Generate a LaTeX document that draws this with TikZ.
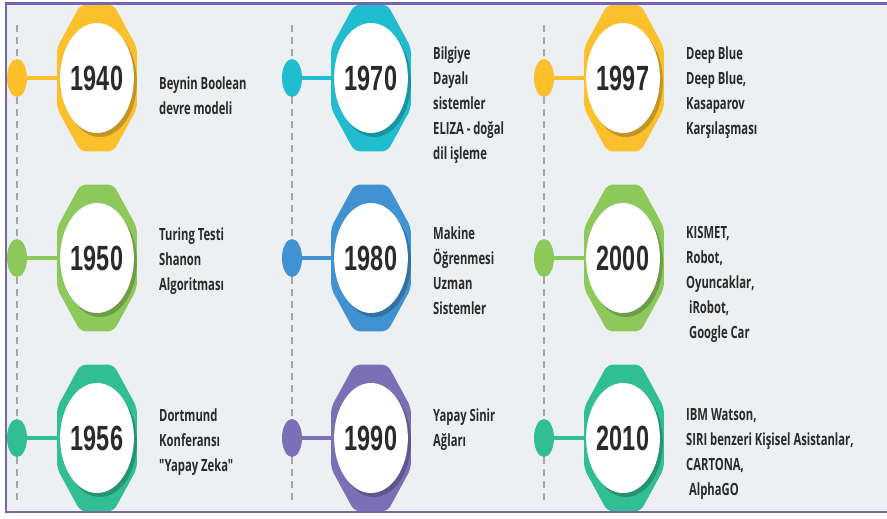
\documentclass[tikz,border=0pt]{standalone}
\usepackage{fontspec}
\usetikzlibrary{shapes.geometric,shadows}
\newfontfamily\descfont{Open Sans}[FakeStretch=0.67]
\newfontfamily\yearfont{Liberation Sans}[FakeStretch=0.67]
\definecolor{paper}{HTML}{EDF0F2}
\definecolor{frame}{HTML}{7565B5}
\definecolor{gold}{HTML}{FCC02D}
\definecolor{aqua}{HTML}{20BDD0}
\definecolor{leaf}{HTML}{8DC85B}
\definecolor{ocean}{HTML}{4092D2}
\definecolor{jade}{HTML}{31BE93}
\definecolor{iris}{HTML}{7B6FB6}
\definecolor{ink}{HTML}{2A2A2A}

\tikzset{
  dot/.style={ellipse, fill=#1, minimum width=20pt, minimum height=38pt, inner sep=0pt},
  octa/.style={regular polygon, regular polygon sides=8, fill=#1, minimum size=159pt,
    inner sep=0pt, rounded corners=6pt, xscale=0.544, transform shape},
  yearball/.style={ellipse, fill=white, minimum width=58pt, minimum height=110pt, inner sep=0pt,
    text=ink, font=\yearfont\bfseries\fontsize{35}{35}\selectfont,
    drop shadow={shadow xshift=3pt, shadow yshift=-4pt, opacity=0.22, fill=black}},
  link/.style={draw=#1, line width=3.5pt},
  desc/.style={anchor=north west, inner sep=0pt, align=left, text=ink, yshift=12.5pt,
    font=\descfont\bfseries\fontsize{16.8}{25}\selectfont, execute at begin node=\strut},
  guide/.style={draw=black!35, line width=1.3pt, dash pattern=on 7pt off 5pt}
}

\begin{document}
\begin{tikzpicture}[x=1pt, y=-1pt]
  \useasboundingbox (0,0) rectangle (887,519);
  \fill[white] (0,0) rectangle (887,519);
  \fill[paper] (6,3.5) rectangle (887,512);
  % dashed time lines
  \foreach \gx in {17,292,544}
    \draw[guide] (\gx,25) -- (\gx,500);

  % first column
  \node[dot=gold] (d1940) at (17,78) {};
  \node[octa=gold] (o1940) at (97,78) {};
  \node[yearball] (y1940) at (97,78) {1940};
  \draw[link=gold] (d1940) -- (o1940);
  \node[desc] (t1940) at (159,89) {Beynin Boolean\\devre modeli};

  \node[dot=leaf] (d1950) at (17,258) {};
  \node[octa=leaf] (o1950) at (97,258) {};
  \node[yearball] (y1950) at (97,258) {1950};
  \draw[link=leaf] (d1950) -- (o1950);
  \node[desc] (t1950) at (159,240) {Turing Testi\\Shanon\\Algoritması};

  \node[dot=jade] (d1956) at (17,438) {};
  \node[octa=jade] (o1956) at (97,438) {};
  \node[yearball] (y1956) at (97,438) {1956};
  \draw[link=jade] (d1956) -- (o1956);
  \node[desc] (t1956) at (159,421) {Dortmund\\Konferansı\\"Yapay Zeka"};

  % second column
  \node[dot=aqua] (d1970) at (292,78) {};
  \node[octa=aqua] (o1970) at (371,78) {};
  \node[yearball] (y1970) at (371,78) {1970};
  \draw[link=aqua] (d1970) -- (o1970);
  \node[desc] (t1970) at (433,59) {Bilgiye\\Dayalı\\sistemler\\ELIZA - doğal\\dil işleme};

  \node[dot=ocean] (d1980) at (292,258) {};
  \node[octa=ocean] (o1980) at (371,258) {};
  \node[yearball] (y1980) at (371,258) {1980};
  \draw[link=ocean] (d1980) -- (o1980);
  \node[desc] (t1980) at (433,239) {Makine\\Öğrenmesi\\Uzman\\Sistemler};

  \node[dot=iris] (d1990) at (292,438) {};
  \node[octa=iris] (o1990) at (371,438) {};
  \node[yearball] (y1990) at (371,438) {1990};
  \draw[link=iris] (d1990) -- (o1990);
  \node[desc] (t1990) at (433,421) {Yapay Sinir\\Ağları};

  % third column
  \node[dot=gold] (d1997) at (544,78) {};
  \node[octa=gold] (o1997) at (624,78) {};
  \node[yearball] (y1997) at (623,78) {1997};
  \draw[link=gold] (d1997) -- (o1997);
  \node[desc] (t1997) at (686,59) {Deep Blue\\Deep Blue,\\Kasaparov\\Karşılaşması};

  \node[dot=leaf] (d2000) at (544,258) {};
  \node[octa=leaf] (o2000) at (624,258) {};
  \node[yearball] (y2000) at (623,258) {2000};
  \draw[link=leaf] (d2000) -- (o2000);
  \node[desc] (t2000) at (686,239) {KISMET,\\Robot,\\Oyuncaklar,\\\ iRobot,\\\ Google Car};

  \node[dot=jade] (d2010) at (544,438) {};
  \node[octa=jade] (o2010) at (624,438) {};
  \node[yearball] (y2010) at (623,438) {2010};
  \draw[link=jade] (d2010) -- (o2010);
  \node[desc] (t2010) at (686,421) {IBM Watson,\\SIRI benzeri Kişisel Asistanlar,\\CARTONA,\\\ AlphaGO};

  % frame
  \draw[frame, line width=2.5pt] (887,3.5) -- (6,3.5) -- (6,512) -- (887,512);
\end{tikzpicture}
\end{document}
